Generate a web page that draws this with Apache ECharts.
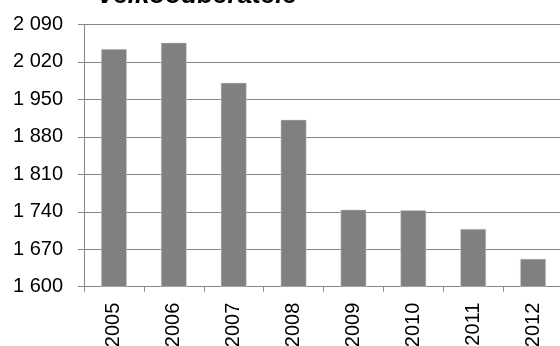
<!DOCTYPE html>
<html>
<head>
<meta charset="utf-8">
<script src="https://cdn.jsdelivr.net/npm/echarts@6/dist/echarts.min.js"></script>
<style>
html,body{margin:0;padding:0;background:#fff;}
#c{width:560px;height:346px;}
</style>
</head>
<body>
<div id="c"></div>
<script>
var titleText = 'Velkoodběratelé';
var categories = ['2005','2006','2007','2008','2009','2010','2011','2012'];
var values = [2044, 2056, 1981, 1912, 1744, 1743, 1708, 1652];
var yMin = 1600, yMax = 2090, yStep = 70;

function fmt(v){
  var s = String(Math.round(v));
  return s.replace(/\B(?=(\d{3})+(?!\d))/g, ' ');
}

var chart = echarts.init(document.getElementById('c'), null, {renderer:'canvas'});
chart.setOption({
  animation:false,
  backgroundColor:'#ffffff',
  title:{
    text:titleText,
    left:92, top:-22,
    textStyle:{fontFamily:'Liberation Sans, Arial, sans-serif', fontSize:26, fontWeight:'bold', fontStyle:'italic', color:'#000'}
  },
  grid:{left:84, right:-3, top:24.5, bottom:59.3, containLabel:false, outerBoundsMode:'none'},
  xAxis:{
    type:'category',
    data:categories,
    boundaryGap:true,
    axisLine:{show:true, lineStyle:{color:'#878787', width:1}},
    axisTick:{show:true, length:5, alignWithLabel:false, lineStyle:{color:'#878787'}},
    axisLabel:{rotate:90, margin:16, fontFamily:'Liberation Sans, Arial, sans-serif', fontSize:20, color:'#000', interval:0},
    splitLine:{show:false}
  },
  yAxis:{
    type:'value',
    min:yMin, max:yMax, interval:yStep,
    axisLine:{show:true, lineStyle:{color:'#878787', width:1}},
    axisTick:{show:true, length:6, inside:false, lineStyle:{color:'#878787'}},
    axisLabel:{margin:21, fontFamily:'Liberation Sans, Arial, sans-serif', fontSize:20, color:'#000', formatter:fmt},
    splitLine:{show:true, lineStyle:{color:'#878787', width:1}}
  },
  series:[{
    type:'bar',
    data:values,
    barWidth:'43%',
    itemStyle:{color:'#808080', borderColor:'#d8d8d8', borderWidth:0.5}
  }]
});
</script>
</body>
</html>
